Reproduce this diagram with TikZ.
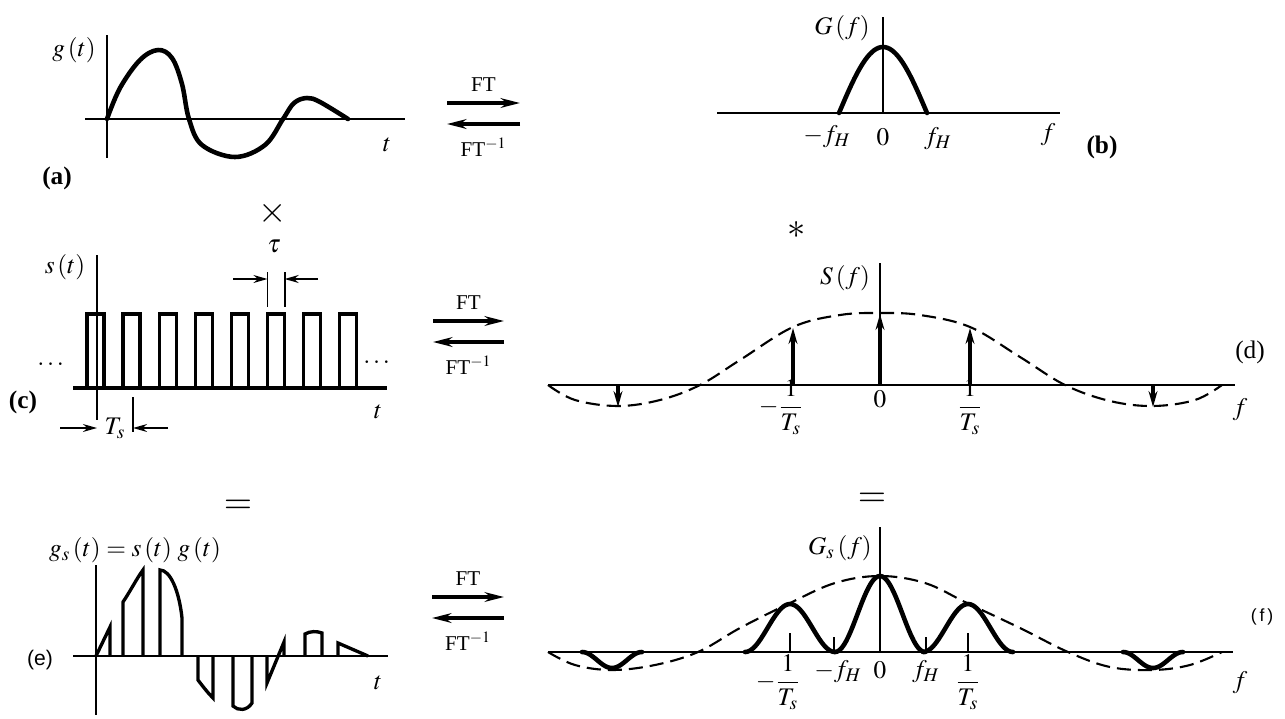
\documentclass[tikz,border=0pt]{standalone}
\usepackage{amsmath}
\usepackage{mathptmx}
\usepackage{fontspec}
\setmainfont{Liberation Serif}
\setsansfont{Liberation Sans}
\renewcommand{\bfdefault}{bx}
\usetikzlibrary{arrows.meta,positioning}

\begin{document}
\begin{tikzpicture}[
    x=0.02cm, y=-0.02cm,
    ax/.style={line width=1.1pt},
    sig/.style={line width=2.6pt, line join=round, line cap=round},
    pulse/.style={line width=1.9pt, line join=miter},
    env/.style={line width=1.2pt, dash pattern=on 8pt off 4pt},
    lbl/.style={font=\Large, inner sep=1pt},
    tag/.style={font=\Large\bfseries, inner sep=1pt},
    ftlbl/.style={font=\large, inner sep=1pt},
    ftarr/.style={line width=1.8pt, -{Stealth[length=11pt,width=5.5pt]}},
    dimarr/.style={line width=1pt, -{Stealth[length=8pt,width=4.5pt]}},
    delta/.style={line width=1.8pt, -{Stealth[length=9pt,width=5pt]}},
    op/.style={font=\huge, inner sep=0pt}
]
\useasboundingbox (0,0) rectangle (1285,718);

% --- (a) g(t) ---
\draw[ax] (85,119) -- (405,119);
\draw[ax] (107,35) -- (107,158);
\draw[sig] plot[smooth, tension=0.6] coordinates {(107,119) (120,88) (140,60) (158,50) (172,58) (182,84) (189,119) (202,145) (235,157) (265,145) (283,119) (294,103) (307,98) (320,102) (348,119)};
\node[lbl] (gt) at (74,50) {$g\,(t)$};
\node[lbl] (ta) at (387,145) {$t$};
\node[tag] (taga) at (57,178) {(a)};

% --- (b) G(f) ---
\draw[ax] (717,113) -- (1060,113);
\draw[ax] (883,17) -- (883,113);
\draw[sig] plot[domain=-44:44, samples=41] ({883+\x},{113-66*cos(90*\x/44)});
\node[lbl] (Gf) at (842,28) {$G\,(f)$};
\node[lbl] (mfhb) at (827,137) {$-f_H$};
\node[lbl] (zb) at (883,137) {$0$};
\node[lbl] (fhb) at (938,139) {$f_H$};
\node[lbl] (fb) at (1048,135) {$f$};
\node[tag] (tagb) at (1102,147) {(b)};

% --- FT pairs ---
\foreach \xa/\xb/\yt/\n in {447/520/85/1, 433/504/303/2, 432/504/579/3} {
  \coordinate (r\n a) at (\xa,\yt+18);
  \coordinate (r\n b) at (\xb,\yt+18);
  \coordinate (l\n a) at (\xa,\yt+39);
  \coordinate (l\n b) at (\xb,\yt+39);
  \draw[ftarr] (r\n a) -- (r\n b);
  \draw[ftarr] (l\n b) -- (l\n a);
  \node[ftlbl] (ft\n) at ({(\xa+\xb)/2},\yt) {FT};
  \node[ftlbl] (ift\n) at ({(\xa+\xb)/2},\yt+62) {FT$^{-1}$};
}

% --- operators ---
\node[op] (times) at (273,213) {$\times$};
\node[font=\huge, inner sep=0pt] (conv) at (797,230) {$\ast$};
\node[op] (eqL) at (238,507) {$=$};
\node[op] (eqR) at (872,500) {$=$};

% --- (c) s(t) ---
\draw[ax] (97,255) -- (97,420);
\foreach \k in {0,...,7}
  \draw[pulse] ({87+36.1*\k},388) -- ({87+36.1*\k},314) -- ({104+36.1*\k},314) -- ({104+36.1*\k},388);
\draw[pulse] (73,388) -- (387,388);
\node[lbl] (st) at (65,267) {$s\,(t)$};
\node[lbl] (dotsL) at (52,365) {$\cdots$};
\node[lbl] (dotsR) at (378,363) {$\cdots$};
\node[lbl] (tc) at (378,412) {$t$};
\node[tag] (tagc) at (23,402) {(c)};
% tau
\draw[ax] (267.5,272) -- (267.5,307);
\draw[ax] (284.6,272) -- (284.6,307);
\coordinate (tau1) at (233,279);
\coordinate (tau2) at (267.5,279);
\coordinate (tau3) at (284.6,279);
\coordinate (tau4) at (318,279);
\draw[dimarr] (tau1) -- (tau2);
\draw[dimarr] (tau4) -- (tau3);
\node[lbl] (tau) at (274,246) {$\tau$};
% Ts
\draw[ax] (133,397) -- (133,432);
\coordinate (ts1) at (60,428);
\coordinate (ts2) at (97,428);
\coordinate (ts3) at (133,428);
\coordinate (ts4) at (168,428);
\draw[dimarr] (ts1) -- (ts2);
\draw[dimarr] (ts4) -- (ts3);
\node[lbl] (Ts) at (115,428) {$T_s$};

% --- (d) S(f) ---
\draw[ax] (548,385) -- (1235,385);
\draw[ax] (880,263) -- (880,385);
\draw[env] plot[smooth, tension=0.6] coordinates {(548,385) (575,400) (618,406) (660,400) (700,385) (740,360) (793,327) (840,315) (880,313) (920,315) (970,327) (1020,357) (1065,385) (1110,401) (1153,406) (1195,400) (1222,385)};
\foreach \xd/\yd in {793/328, 880/314, 970/328, 618/407, 1153/407}
  \draw[delta] (\xd,385) -- (\xd,\yd);
\node[lbl] (Sf) at (845,278) {$S\,(f)$};
\node[lbl] (m1d) at (781,407) {$-\displaystyle\frac{1}{T_s}$};
\node[lbl] (zd) at (880,399) {$0$};
\node[lbl] (p1d) at (970,407) {$\displaystyle\frac{1}{T_s}$};
\node[lbl] (fd) at (1240,410) {$f$};
\node[font=\Large, inner sep=1pt] (tagd) at (1250,352) {(d)};

% --- (e) gs(t) ---
\draw[ax] (73,656) -- (388,656);
\draw[ax] (96,565) -- (96,715);
\draw[pulse] (96,656) -- (110,627) -- (110,656);
\draw[pulse] (123,656) -- (123,602) .. controls (131,590) and (137,578) .. (143,570) -- (143,656);
\draw[pulse] (160,656) -- (160,570) .. controls (170,570) and (179,590) .. (182,618) -- (182,656);
\draw[pulse] (198,656) -- (198,680) .. controls (204,688) and (209,694) .. (213,698) -- (213,656);
\draw[pulse] (233,656) -- (233,706) .. controls (238,711) and (247,711) .. (252,703) -- (252,656);
\draw[pulse] (267,656) -- (267,683) -- (284,642) -- (284,656);
\draw[pulse] (305,656) -- (305,634) .. controls (310,631) and (317,631) .. (322,633) -- (322,656);
\draw[pulse] (338,656) -- (338,643) -- (368,656);
\node[lbl] (gst) at (135,550) {$g_s\,(t) = s\,(t)\;g\,(t)$};
\node[lbl] (te) at (378,683) {$t$};
\node[font=\large\sffamily, inner sep=1pt] (tage) at (40,660) {(e)};

% --- (f) Gs(f) ---
\draw[ax] (548,652) -- (1233,652);
\draw[ax] (880,527) -- (880,652);
\draw[env] plot[smooth, tension=0.6] coordinates {(548,652) (575,665) (612,670) (655,665) (698,652) (740,628) (788,604) (835,583) (880,576) (925,583) (967,603) (1020,628) (1068,652) (1110,667) (1153,670) (1190,665) (1222,652)};
\draw[sig] plot[domain=-45:45, samples=41] ({880+\x},{652-76*(1+cos(4*\x))/2});
\foreach \xc in {790,968}
  \draw[sig] plot[domain=-45:45, samples=41] ({\xc+\x},{652-48*(1+cos(4*\x))/2});
\foreach \xc in {612,1153}
  \draw[sig] plot[domain=-30:30, samples=31] ({\xc+\x},{652+16*(1+cos(6*\x))/2});
\foreach \xt/\yt in {790/633, 834/637, 926/637, 968/633}
  \draw[ax] (\xt,\yt) -- (\xt,652);
\node[lbl] (Gsf) at (840,548) {$G_s\,(f)$};
\node[lbl] (m1f) at (778,682) {$-\displaystyle\frac{1}{T_s}$};
\node[lbl] (mfhf) at (838,672) {$-f_H$};
\node[lbl] (zf) at (880,670) {$0$};
\node[lbl] (fhf) at (926,672) {$f_H$};
\node[lbl] (p1f) at (968,682) {$\displaystyle\frac{1}{T_s}$};
\node[lbl] (ff) at (1240,683) {$f$};
\node[font=\sffamily, inner sep=1pt] (tagf) at (1262,617) {(\,f\,)};

\end{tikzpicture}
\end{document}
